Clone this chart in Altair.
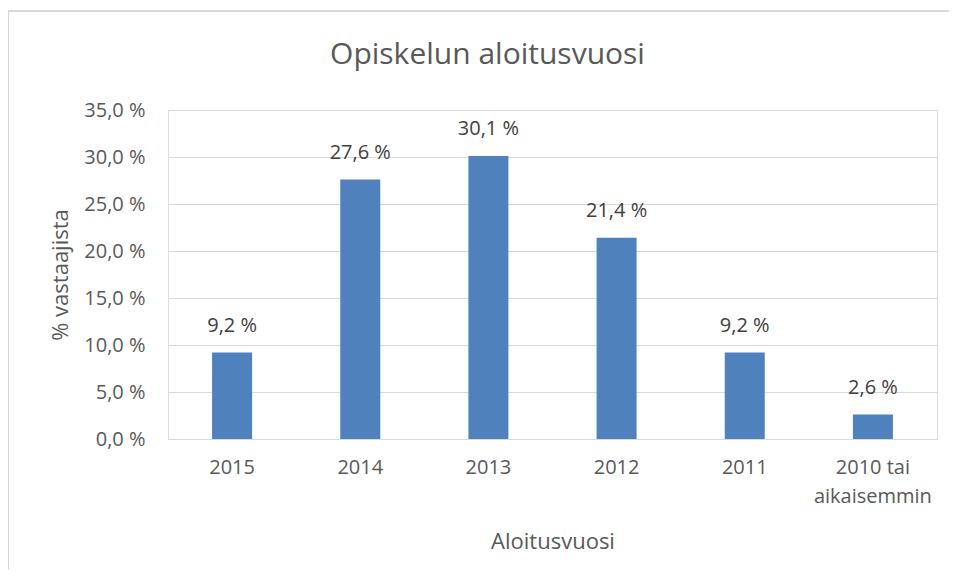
import altair as alt
import pandas as pd

categories = ["2015", "2014", "2013", "2012", "2011", "2010 tai\naikaisemmin"]
values = [9.2, 27.6, 30.1, 21.4, 9.2, 2.6]
y_ticks = [0, 5, 10, 15, 20, 25, 30, 35]

df = pd.DataFrame({"vuosi": categories, "osuus": values})
df["label"] = [f"{v:.1f} %".replace(".", ",") for v in values]

FONT = "Open Sans"
W, H = 769, 329
PAD_R, PAD_B = 12, 131

x_enc = alt.X(
    "vuosi:N",
    sort=categories,
    scale=alt.Scale(paddingInner=0.69, paddingOuter=0.345),
    axis=alt.Axis(
        title="Aloitusvuosi",
        labelExpr="split(datum.label, '\\n')",
        labelAngle=0,
        labelFontSize=20,
        labelColor="#595959",
        labelFont=FONT,
        labelPadding=18,
        labelLineHeight=29,
        ticks=False,
        domain=True,
        domainColor="#D9D9D9",
        titleFontSize=22,
        titleFont=FONT,
        titleColor="#595959",
        titleFontWeight="normal",
        titleY=102,
        titleBaseline="middle",
    ),
)

y_enc = alt.Y(
    "osuus:Q",
    scale=alt.Scale(domain=[0, 35]),
    axis=alt.Axis(
        title="% vastaajista",
        values=y_ticks,
        labelExpr="replace(format(datum.value, '.1f'), '.', ',') + ' %'",
        labelFontSize=20,
        labelColor="#595959",
        labelFont=FONT,
        labelPadding=23,
        ticks=False,
        domain=False,
        grid=True,
        gridColor="#D9D9D9",
        gridWidth=1,
        titleFontSize=22,
        titleFont=FONT,
        titleColor="#595959",
        titleFontWeight="normal",
        titleX=-108,
        titleY=H / 2,
        titleBaseline="middle",
    ),
)

base = alt.Chart(df)

bars = base.mark_bar(color="#4F81BD", size=40).encode(x=x_enc, y=y_enc)

labels = base.mark_text(
    baseline="bottom", dy=-17, fontSize=20, font=FONT, color="#404040"
).encode(x=alt.X("vuosi:N", sort=categories), y=alt.Y("osuus:Q"), text="label:N")

frame_top = base.mark_rule(color="#D9D9D9", strokeWidth=1).encode(
    x=alt.value(-160), x2=alt.value(W + PAD_R), y=alt.value(-99)
)
frame_left = base.mark_rule(color="#D9D9D9", strokeWidth=1).encode(
    x=alt.value(-159.5), y=alt.value(-99), y2=alt.value(H + PAD_B)
)

chart = (
    alt.layer(frame_top, frame_left, bars, labels)
    .properties(
        width=W,
        height=H,
        title=alt.TitleParams(
            "Opiskelun aloitusvuosi",
            fontSize=30,
            font=FONT,
            color="#595959",
            fontWeight="normal",
            anchor="middle",
            dx=-65,
            offset=-59,
        ),
        padding={"left": 160, "top": 102, "right": PAD_R, "bottom": PAD_B},
        autosize=alt.AutoSizeParams(type="none"),
    )
    .configure_view(stroke=None)
    .configure(background="white")
)

chart.save("out.html", embed_options={"renderer": "svg", "actions": False})
